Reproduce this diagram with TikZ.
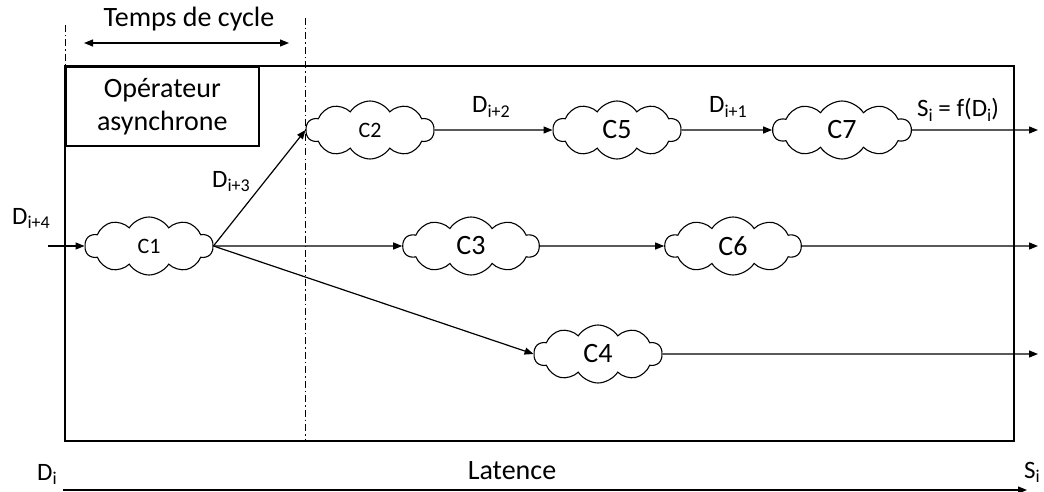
\documentclass[tikz,border=0pt]{standalone}
\usepackage{fontspec}
\setmainfont{Carlito}
\usetikzlibrary{shapes.symbols,arrows.meta}
\tikzset{
  proc/.style={cloud, draw, cloud puffs=10, cloud puff arc=115, cloud ignores aspect, line width=1.1pt, inner sep=0pt, minimum width=128pt, minimum height=58pt, font=\fontsize{28}{30}\selectfont},
  small/.style={font=\fontsize{22}{24}\selectfont},
  conn/.style={line width=1.2pt, -{Triangle[length=9pt,width=7pt]}},
  big/.style={font=\fontsize{28}{30}\selectfont, inner sep=0pt},
  lab/.style={font=\fontsize{25}{27}\selectfont, inner sep=0pt, anchor=base west},
  dd/.style={line width=0.9pt, dash pattern=on 7pt off 3pt on 1.5pt off 3pt},
  frame/.style={line width=1.6pt},
}
\newcommand{\sub}[1]{\raisebox{-4.5pt}{\fontsize{18}{18}\selectfont #1}}
\begin{document}
\begin{tikzpicture}[x=1pt,y=-1pt]
\useasboundingbox (0,0) rectangle (1044,492);
% frames
\draw[frame] (65,66) rectangle (1014,441);
\node[frame, draw, minimum width=193pt, minimum height=79pt, anchor=north west, align=center, font=\fontsize{28}{33}\selectfont, inner sep=0pt] (op) at (65,66) {Opérateur\\asynchrone};
% dash-dot lines
\coordinate (l1) at (65,25); \coordinate (l1b) at (65,66);
\coordinate (l2) at (305,18); \coordinate (l2b) at (305,441);
\draw[dd] (l1) -- (l1b);
\draw[dd] (l2) -- (l2b);
% temps de cycle
\coordinate (t1) at (84,43); \coordinate (t2) at (289,43);
\draw[line width=1.2pt, {Triangle[length=9pt,width=7pt]}-{Triangle[length=9pt,width=7pt]}] (t1) -- (t2);
\node[big, anchor=base] (tc) at (189,27) {Temps de cycle};
% clouds
\node[proc, small] (c1) at (149,246) {C1};
\node[proc, small] (c2) at (370,130) {C2};
\node[proc] (c5) at (617,130) {C5};
\node[proc, minimum width=138pt] (c7) at (842,130) {C7};
\node[proc, minimum width=136pt] (c3) at (471,246) {C3};
\node[proc, minimum width=136pt] (c6) at (733,246) {C6};
\node[proc] (c4) at (598,354) {C4};
% inputs/outputs
\coordinate (in) at (48,246);
\coordinate (o7) at (1038,130);
\coordinate (o6) at (1038,246);
\coordinate (o4) at (1038,354);
\draw[conn] (in) -- (c1.west);
\draw[conn] (c1.east) -- (c2.west);
\draw[conn] (c1.east) -- (c3.west);
\draw[conn] (c1.east) -- (c4.west);
\draw[conn] (c2.east) -- (c5.west);
\draw[conn] (c5.east) -- (c7.west);
\draw[conn] (c3.east) -- (c6.west);
\draw[conn] (c7.east) -- (o7);
\draw[conn] (c6.east) -- (o6);
\draw[conn] (c4.east) -- (o4);
% labels
\node[lab] (d4) at (12,224) {D\sub{i+4}};
\node[lab] (d3) at (212,187) {D\sub{i+3}};
\node[lab] (d2) at (472,113) {D\sub{i+2}};
\node[lab] (d1) at (709,113) {D\sub{i+1}};
\node[lab] (si) at (917,117) {S\sub{i} = f(D\sub{i})};
% latence
\node[lab] (di) at (37,480) {D\sub{i}};
\node[big, anchor=base] (lat) at (512,479) {Latence};
\node[lab] (so) at (1024,478) {S\sub{i}};
\coordinate (a1) at (63,490); \coordinate (a2) at (1027,490);
\draw[conn] (a1) -- (a2);
\end{tikzpicture}
\end{document}
